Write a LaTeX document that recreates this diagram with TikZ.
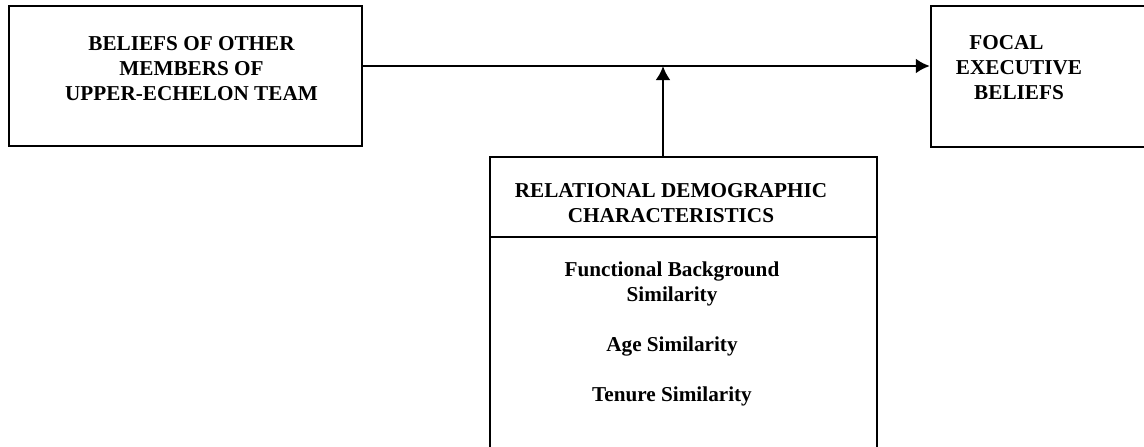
\documentclass[tikz,border=0pt]{standalone}
\usepackage{fontspec}
\setmainfont{Liberation Serif}
\usepackage{tikz}
\tikzstyle{box} = [draw, rectangle, line width=1.2pt, inner sep=0pt]
\tikzstyle{boxtext} = [anchor=north, align=center, inner sep=0pt,
    font=\bfseries\fontsize{10.6}{12.5}\selectfont]
\usetikzlibrary{arrows.meta}
\tikzset{>={Latex[length=7pt,width=7.5pt]}}

\begin{document}
\begin{tikzpicture}[x=0.5pt, y=-0.5pt]
\useasboundingbox (0,0) rectangle (1144,446);
\begin{scope}
    %boxes
    \node[box, minimum width=176.5pt, minimum height=70pt] (others) at (185.5,76) {};
    \node[box, minimum width=114.5pt, minimum height=70.5pt] (focal) at (1045.5,76.5) {};
    \node[box, minimum width=193.5pt, minimum height=40pt] (rdc) at (683.5,197) {};
    \node[box, minimum width=193.5pt, minimum height=116.5pt] (sims) at (683.5,353.5) {};
    %texts
    \node[boxtext] (othersText) at (191.5,36) {BELIEFS OF OTHER\\MEMBERS OF\\UPPER-ECHELON TEAM};
    \node[boxtext] (focalText) at (1019,35) {FOCAL\hspace*{12.5pt}\\EXECUTIVE\\BELIEFS};
    \node[boxtext] (rdcText) at (671,183) {RELATIONAL DEMOGRAPHIC\\CHARACTERISTICS};
    \node[boxtext] (simsText) at (672,261) {Functional Background\\Similarity\\[12.5pt]Age Similarity\\[12.5pt]Tenure Similarity};
    %arrows
    \coordinate (split) at ([yshift=5pt]others.east);
    \draw[->, line width=1.3pt] (split) -- (split -| focal.west);
    \coordinate (foot) at ([xshift=-10.25pt]rdc.north);
    \draw[->, line width=1.3pt] (foot) -- (foot |- split);
\end{scope}
\end{tikzpicture}
\end{document}
